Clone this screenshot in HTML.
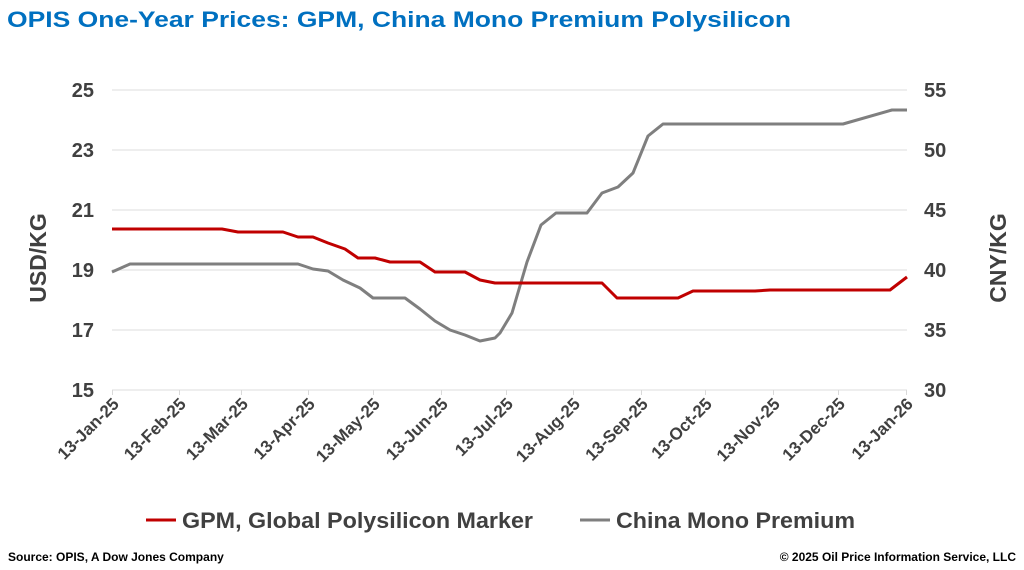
<!DOCTYPE html>
<html><head><meta charset="utf-8"><style>body{margin:0;background:#fff}svg{display:block}</style></head>
<body>
<svg width="1024" height="570" xmlns="http://www.w3.org/2000/svg" font-family="Liberation Sans, Arial, sans-serif">
<rect width="1024" height="570" fill="#fff"/>
<text x="7" y="27" font-size="22" font-weight="bold" fill="#0070C0" textLength="784" lengthAdjust="spacingAndGlyphs">OPIS One-Year Prices: GPM, China Mono Premium Polysilicon</text>
<g stroke="#e3e3e3" stroke-width="1.3">
<line x1="112" y1="90" x2="907" y2="90"/><line x1="112" y1="150" x2="907" y2="150"/><line x1="112" y1="210" x2="907" y2="210"/><line x1="112" y1="270" x2="907" y2="270"/><line x1="112" y1="330" x2="907" y2="330"/><line x1="112" y1="390" x2="907" y2="390"/>
</g>
<g stroke="#d9d9d9" stroke-width="1">
<line x1="112.5" y1="390" x2="112.5" y2="395"/><line x1="179.5" y1="390" x2="179.5" y2="395"/><line x1="241.5" y1="390" x2="241.5" y2="395"/><line x1="308.5" y1="390" x2="308.5" y2="395"/><line x1="373.5" y1="390" x2="373.5" y2="395"/><line x1="441.5" y1="390" x2="441.5" y2="395"/><line x1="506.5" y1="390" x2="506.5" y2="395"/><line x1="573.5" y1="390" x2="573.5" y2="395"/><line x1="641.5" y1="390" x2="641.5" y2="395"/><line x1="705.5" y1="390" x2="705.5" y2="395"/><line x1="773.5" y1="390" x2="773.5" y2="395"/><line x1="838.5" y1="390" x2="838.5" y2="395"/><line x1="906.5" y1="390" x2="906.5" y2="395"/>
</g>
<g font-size="20" font-weight="bold" fill="#404040" text-anchor="end">
<text x="94" y="97">25</text><text x="94" y="157">23</text><text x="94" y="217">21</text><text x="94" y="277">19</text><text x="94" y="337">17</text><text x="94" y="397">15</text>
</g>
<g font-size="20" font-weight="bold" fill="#404040" text-anchor="start">
<text x="924" y="97">55</text><text x="924" y="157">50</text><text x="924" y="217">45</text><text x="924" y="277">40</text><text x="924" y="337">35</text><text x="924" y="397">30</text>
</g>
<text transform="translate(46,258) rotate(-90)" font-size="23" font-weight="bold" fill="#404040" text-anchor="middle">USD/KG</text>
<text transform="translate(1006,258) rotate(-90)" font-size="23" font-weight="bold" fill="#404040" text-anchor="middle">CNY/KG</text>
<g font-size="17" font-weight="bold" fill="#404040" text-anchor="end">
<text transform="translate(120,405) rotate(-45)">13-Jan-25</text>
<text transform="translate(187,405) rotate(-45)">13-Feb-25</text>
<text transform="translate(249,405) rotate(-45)">13-Mar-25</text>
<text transform="translate(316,405) rotate(-45)">13-Apr-25</text>
<text transform="translate(381,405) rotate(-45)">13-May-25</text>
<text transform="translate(449,405) rotate(-45)">13-Jun-25</text>
<text transform="translate(514,405) rotate(-45)">13-Jul-25</text>
<text transform="translate(581,405) rotate(-45)">13-Aug-25</text>
<text transform="translate(649,405) rotate(-45)">13-Sep-25</text>
<text transform="translate(713,405) rotate(-45)">13-Oct-25</text>
<text transform="translate(781,405) rotate(-45)">13-Nov-25</text>
<text transform="translate(846,405) rotate(-45)">13-Dec-25</text>
<text transform="translate(914,405) rotate(-45)">13-Jan-26</text>
</g>
<polyline fill="none" stroke="#7f7f7f" stroke-width="3" stroke-linejoin="round" points="112,272 130,264 298,264 313,269 328,271 343,280 360,288 373,298 405,298 420,309 435,321 450,330 465,335 480,341 495,338 500,333 512,313 527,262 541,225 556,213 587,213 602,193 618,187 633,173 648,136 663,124 843,124 892,110 907,110"/>
<polyline fill="none" stroke="#C00000" stroke-width="3" stroke-linejoin="round" points="112,229 222,229 238,232 283,232 298,237 313,237 328,243 345,249 358,258 375,258 390,262 420,262 435,272 465,272 480,280 495,283 602,283 617,298 678,298 693,291 755,291 770,290 890,290 907,277"/>
<line x1="146" y1="520" x2="176" y2="520" stroke="#C00000" stroke-width="3"/>
<text x="182" y="528" font-size="22" font-weight="bold" fill="#404040" textLength="351" lengthAdjust="spacingAndGlyphs">GPM, Global Polysilicon Marker</text>
<line x1="580" y1="520" x2="610" y2="520" stroke="#7f7f7f" stroke-width="3"/>
<text x="616" y="528" font-size="22" font-weight="bold" fill="#404040" textLength="239" lengthAdjust="spacingAndGlyphs">China Mono Premium</text>
<text x="8" y="561" font-size="12" font-weight="bold" fill="#000">Source: OPIS, A Dow Jones Company</text>
<text x="1016" y="561" font-size="12" font-weight="bold" fill="#000" text-anchor="end">© 2025 Oil Price Information Service, LLC</text>
</svg>
</body></html>
